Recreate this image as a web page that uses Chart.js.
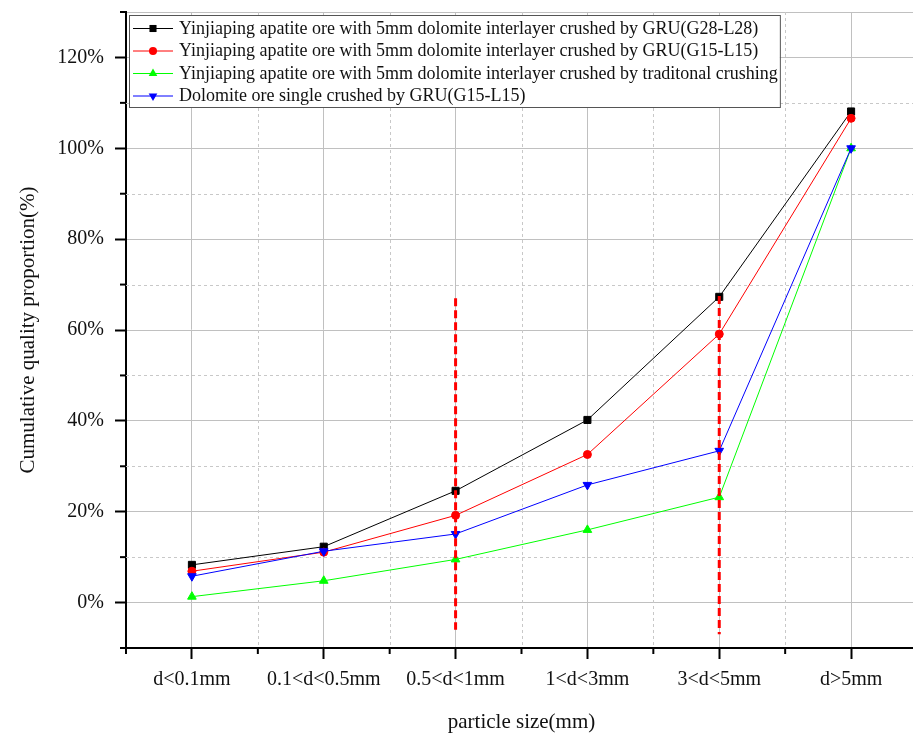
<!DOCTYPE html>
<html>
<head>
<meta charset="utf-8">
<title>Cumulative quality proportion</title>
<script src="https://cdn.jsdelivr.net/npm/chart.js"></script>
<style>
  html, body { margin: 0; padding: 0; background: #fff; overflow: hidden; }
  #wrap { position: relative; width: 925px; height: 740px; }
</style>
</head>
<body>
<div id="wrap"><canvas id="curve"></canvas></div>
<script>
// particle size classes
var categories = ["d<0.1mm", "0.1<d<0.5mm", "0.5<d<1mm", "1<d<3mm", "3<d<5mm", "d>5mm"];

// cumulative quality proportion (%)
var gruG28 = [8.3, 12.3, 24.6, 40.2, 67.3, 108.1];
var gruG15 = [6.9, 11.1, 19.2, 32.6, 59.1, 106.6];
var traditional = [1.3, 4.8, 9.5, 16.0, 23.2, 100.0];
var dolomite = [5.8, 11.3, 15.1, 25.9, 33.4, 100.0];

var seriesNames = [
  "Yinjiaping apatite ore with 5mm dolomite interlayer crushed by GRU(G28-L28)",
  "Yinjiaping apatite ore with 5mm dolomite interlayer crushed by GRU(G15-L15)",
  "Yinjiaping apatite ore with 5mm dolomite interlayer crushed by traditonal crushing",
  "Dolomite ore single crushed by GRU(G15-L15)"
];

// red dashed marker lines
var cutLineX = [2, 4];
var cutLineTop = [67, 67.5];
var cutLineBottom = [-6, -7];

var yTicks = { min: -10, max: 130, step: 10 };

const FONT = "'Liberation Serif', 'Times New Roman', serif";

function toPoints(arr) {
  return arr.map(function (v, i) { return { x: i, y: v }; });
}

function isMajorX(v) { return Math.abs(v - Math.round(v)) < 1e-6; }
function isMajorY(v) { return v % 20 === 0 || v === yTicks.max; }

var datasets = [];
for (var c = 0; c < cutLineX.length; c++) {
  datasets.push({
    label: "",
    isCut: true,
    data: [{ x: cutLineX[c], y: cutLineTop[c] }, { x: cutLineX[c], y: cutLineBottom[c] }],
    borderColor: "#ff0000",
    borderWidth: 3,
    borderDash: [8, 4],
    pointRadius: 0,
    order: 0
  });
}
datasets.push(
  {
    label: seriesNames[0], data: toPoints(gruG28),
    borderColor: "#000000", backgroundColor: "#000000", borderWidth: 1,
    pointStyle: "rect", pointRadius: 5, pointRotation: 0, order: 4
  },
  {
    label: seriesNames[1], data: toPoints(gruG15),
    borderColor: "#ff0000", backgroundColor: "#ff0000", borderWidth: 1,
    pointStyle: "circle", pointRadius: 4, pointRotation: 0, order: 3
  },
  {
    label: seriesNames[2], data: toPoints(traditional),
    borderColor: "#00ff00", backgroundColor: "#00ff00", borderWidth: 1,
    pointStyle: "triangle", pointRadius: 5, pointRotation: 0, order: 2
  },
  {
    label: seriesNames[3], data: toPoints(dolomite),
    borderColor: "#0000ff", backgroundColor: "#0000ff", borderWidth: 1,
    pointStyle: "triangle", pointRadius: 5, pointRotation: 180, order: 1
  }
);

// dashed minor grid + short minor ticks
const minorGrid = {
  id: "minorGrid",
  beforeDatasetsDraw(chart) {
    var ctx = chart.ctx, area = chart.chartArea;
    var xs = chart.scales.x, ys = chart.scales.y;
    ctx.save();
    ctx.strokeStyle = "#c8c8c8";
    ctx.lineWidth = 1;
    ctx.setLineDash([3, 3]);
    xs.ticks.forEach(function (t) {
      if (isMajorX(t.value) || t.value <= xs.min || t.value >= xs.max) return;
      var px = Math.round(xs.getPixelForValue(t.value)) + 0.5;
      ctx.beginPath(); ctx.moveTo(px, area.top); ctx.lineTo(px, area.bottom); ctx.stroke();
    });
    ys.ticks.forEach(function (t) {
      if (isMajorY(t.value) || t.value === yTicks.min) return;
      var py = Math.round(ys.getPixelForValue(t.value)) + 0.5;
      ctx.beginPath(); ctx.moveTo(area.left, py); ctx.lineTo(area.right, py); ctx.stroke();
    });
    ctx.setLineDash([]);
    ctx.strokeStyle = "#000";
    ctx.lineWidth = 2;
    xs.ticks.forEach(function (t) {
      if (isMajorX(t.value)) return;
      var px = xs.getPixelForValue(t.value);
      ctx.beginPath(); ctx.moveTo(px, area.bottom); ctx.lineTo(px, area.bottom + 6); ctx.stroke();
    });
    ys.ticks.forEach(function (t) {
      if (t.value % 20 === 0) return;
      var py = ys.getPixelForValue(t.value);
      ctx.beginPath(); ctx.moveTo(area.left - 6, py); ctx.lineTo(area.left, py); ctx.stroke();
    });
    ctx.restore();
  }
};

function drawMarker(ctx, ds, x, y) {
  var r = ds.pointRadius;
  ctx.fillStyle = ds.backgroundColor;
  ctx.beginPath();
  if (ds.pointStyle === "rect") {
    var s = r * Math.SQRT1_2;
    ctx.rect(x - s, y - s, 2 * s, 2 * s);
  } else if (ds.pointStyle === "circle") {
    ctx.arc(x, y, r, 0, Math.PI * 2);
  } else {
    var dir = ds.pointRotation === 180 ? -1 : 1;
    var h = r * 0.5;
    ctx.moveTo(x, y - dir * r);
    ctx.lineTo(x + r * 0.866, y + dir * h);
    ctx.lineTo(x - r * 0.866, y + dir * h);
    ctx.closePath();
  }
  ctx.fill();
}

// boxed legend in the upper left of the plot
const boxLegend = {
  id: "boxLegend",
  afterDraw(chart) {
    var ctx = chart.ctx;
    var items = chart.data.datasets.filter(function (d) { return !d.isCut; });
    var left = 129, top = 15, rowH = 22.5;
    var textX = 179;
    ctx.save();
    ctx.font = "18px " + FONT;
    var maxW = 0;
    items.forEach(function (d) { maxW = Math.max(maxW, ctx.measureText(d.label).width); });
    var w = textX + maxW + 2 - left;
    var h = 92;
    ctx.fillStyle = "#fff";
    ctx.fillRect(left, top, w, h);
    ctx.strokeStyle = "#555";
    ctx.lineWidth = 1;
    ctx.strokeRect(left + 0.5, top + 0.5, w, h);
    items.forEach(function (d, i) {
      var cy = top + 13 + i * rowH;
      ctx.strokeStyle = d.borderColor;
      ctx.lineWidth = 1;
      ctx.beginPath(); ctx.moveTo(133, cy + 0.5); ctx.lineTo(173, cy + 0.5); ctx.stroke();
      drawMarker(ctx, d, 153, cy + 0.5);
      ctx.fillStyle = "#111";
      ctx.textBaseline = "middle";
      ctx.textAlign = "left";
      ctx.fillText(d.label, textX, cy + 1);
    });
    ctx.restore();
  }
};

var ctx = document.getElementById("curve");
new Chart(ctx, {
  type: "line",
  data: { datasets: datasets },
  plugins: [minorGrid, boxLegend],
  options: {
    responsive: true,
    maintainAspectRatio: false,
    animation: false,
    layout: { padding: { left: 0, top: 12, right: 8, bottom: 0 } },
    plugins: { legend: { display: false }, tooltip: { enabled: false } },
    elements: { line: { tension: 0 } },
    scales: {
      x: {
        type: "linear",
        min: -0.5,
        max: categories.length - 0.5,
        afterFit: function (s) {
          s.height = 92;
          s.paddingLeft = 0;
          s.paddingRight = 0;
        },
        afterBuildTicks: function (s) {
          var t = [];
          for (var v = -0.5; v <= categories.length - 0.5 + 1e-6; v += 0.5) t.push({ value: v });
          s.ticks = t;
        },
        ticks: {
          autoSkip: false,
          maxRotation: 0,
          padding: 9,
          color: "#111",
          font: { family: FONT, size: 20 },
          callback: function (v) { return isMajorX(v) ? categories[Math.round(v)] : ""; }
        },
        grid: {
          color: function (c) { return isMajorX(c.tick.value) ? "#c0c0c0" : "transparent"; },
          tickColor: function (c) { return isMajorX(c.tick.value) ? "#000" : "transparent"; },
          tickLength: 11,
          tickWidth: 2,
          lineWidth: 1
        },
        border: { color: "#000", width: 2 },
        title: {
          display: true,
          text: "particle size(mm)",
          color: "#111",
          font: { family: FONT, size: 21 },
          padding: 5
        }
      },
      y: {
        min: yTicks.min,
        max: yTicks.max,
        afterFit: function (s) {
          s.width = 126;
          s.paddingTop = 0;
          s.paddingBottom = 0;
        },
        ticks: {
          stepSize: yTicks.step,
          autoSkip: false,
          padding: 11,
          color: "#111",
          font: { family: FONT, size: 20 },
          callback: function (v) { return v % 20 === 0 ? v + "%" : ""; }
        },
        grid: {
          color: function (c) { return isMajorY(c.tick.value) ? "#c0c0c0" : "transparent"; },
          tickColor: function (c) { return c.tick.value % 20 === 0 ? "#000" : "transparent"; },
          tickLength: 11,
          tickWidth: 2,
          lineWidth: 1
        },
        border: { color: "#000", width: 2 },
        title: {
          display: true,
          text: "Cumulative quality proportion(%)",
          color: "#111",
          font: { family: FONT, size: 21 },
          padding: 16
        }
      }
    }
  }
});
</script>
</body>
</html>
